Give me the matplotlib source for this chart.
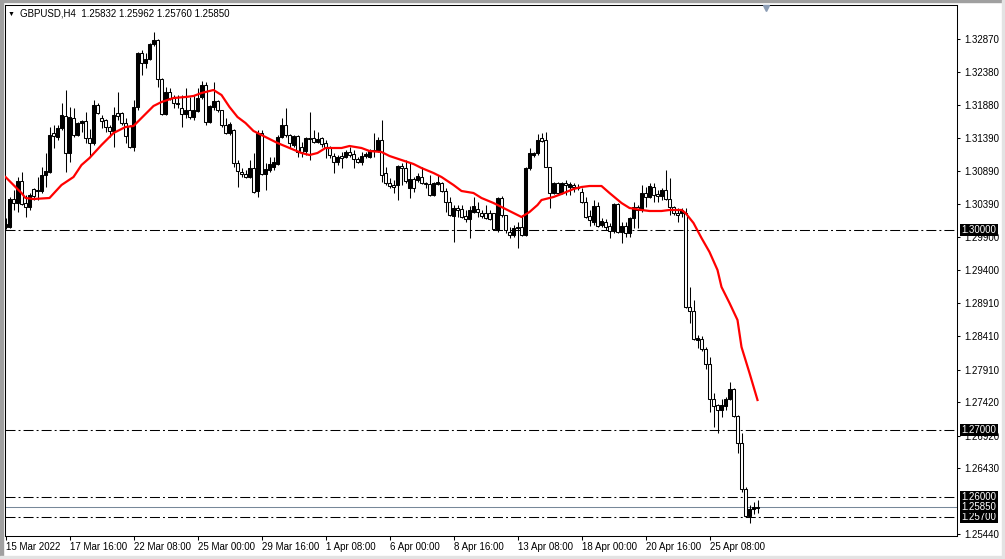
import numpy as np
import matplotlib
matplotlib.use("Agg")
import matplotlib.pyplot as plt
import matplotlib.transforms as mtransforms
from matplotlib.patches import Rectangle

plt.rcParams['font.family'] = ['Liberation Sans', 'DejaVu Sans']
plt.rcParams['lines.scale_dashes'] = False

# GBPUSD H4 candles, 15 Mar 2022 00:00 onwards
opens = [1.30050, 1.30050, 1.30470, 1.30410, 1.30740, 1.30410, 1.30350, 1.30620, 1.30590, 1.30590,
         1.30830, 1.30875, 1.31460, 1.31400, 1.31535, 1.31715, 1.31160, 1.31685, 1.31430, 1.31610,
         1.31640, 1.31385, 1.31310, 1.31880, 1.31685, 1.31655, 1.31550, 1.31490, 1.31760, 1.31760,
         1.31610, 1.31565, 1.31250, 1.31850, 1.32660, 1.32510, 1.32570, 1.32795, 1.32855, 1.32270,
         1.31745, 1.32075, 1.31985, 1.31910, 1.31835, 1.31745, 1.31805, 1.31700, 1.31790, 1.32000,
         1.32180, 1.31625, 1.31850, 1.31940, 1.31805, 1.31580, 1.31460, 1.31505, 1.31010, 1.30875,
         1.30845, 1.30800, 1.30935, 1.30590, 1.31460, 1.30845, 1.30905, 1.30950, 1.30995, 1.31400,
         1.31580, 1.31430, 1.31280, 1.31415, 1.31250, 1.31190, 1.31385, 1.31385, 1.31325, 1.31385,
         1.31310, 1.31235, 1.31115, 1.31025, 1.31115, 1.31100, 1.31175, 1.31145, 1.31070, 1.31025,
         1.31115, 1.31100, 1.31190, 1.31190, 1.31355, 1.30860, 1.30710, 1.30680, 1.30680, 1.30965,
         1.30935, 1.30635, 1.30770, 1.30755, 1.30800, 1.30710, 1.30695, 1.30530, 1.30695, 1.30710,
         1.30590, 1.30425, 1.30215, 1.30335, 1.30320, 1.30215, 1.30170, 1.30275, 1.30320, 1.30260,
         1.30260, 1.30260, 1.30260, 1.30005, 1.30485, 1.30230, 1.29975, 1.29930, 1.30035, 1.30050,
         1.29930, 1.30935, 1.31130, 1.31160, 1.31385, 1.31355, 1.30950, 1.30560, 1.30710, 1.30560,
         1.30710, 1.30650, 1.30680, 1.30650, 1.30575, 1.30425, 1.30215, 1.30125, 1.30365, 1.30080,
         1.30125, 1.30065, 1.29990, 1.30395, 1.29975, 1.30065, 1.29960, 1.30185, 1.30350, 1.30305,
         1.30560, 1.30500, 1.30650, 1.30545, 1.30515, 1.30605, 1.30470, 1.30350, 1.30260, 1.30260,
         1.30260, 1.28850, 1.28790, 1.28355, 1.28370, 1.28220, 1.27995, 1.27470, 1.27380, 1.27305,
         1.27365, 1.27470, 1.27620, 1.27215, 1.26810, 1.26120, 1.25715, 1.25820, 1.25832]
highs = [1.30185, 1.30500, 1.30605, 1.30800, 1.30875, 1.30530, 1.30560, 1.30635, 1.30800, 1.30950,
         1.31160, 1.31550, 1.31580, 1.31580, 1.31910, 1.32105, 1.31850, 1.31835, 1.31625, 1.31655,
         1.31775, 1.31520, 1.31955, 1.31910, 1.31730, 1.31670, 1.31580, 1.31850, 1.32075, 1.31775,
         1.31685, 1.31580, 1.31955, 1.32675, 1.32705, 1.32660, 1.32810, 1.32975, 1.32870, 1.32285,
         1.32150, 1.32135, 1.32030, 1.32030, 1.32030, 1.32135, 1.32000, 1.32030, 1.32135, 1.32240,
         1.32225, 1.31880, 1.32225, 1.31955, 1.31805, 1.31685, 1.31625, 1.31520, 1.31055, 1.30935,
         1.30905, 1.31055, 1.31160, 1.31505, 1.31505, 1.31010, 1.31100, 1.31100, 1.31430, 1.31685,
         1.31835, 1.31445, 1.31430, 1.31430, 1.31325, 1.31400, 1.31775, 1.31505, 1.31475, 1.31400,
         1.31355, 1.31265, 1.31160, 1.31130, 1.31175, 1.31205, 1.31250, 1.31205, 1.31100, 1.31175,
         1.31175, 1.31220, 1.31460, 1.31400, 1.31655, 1.30950, 1.30785, 1.30755, 1.30980, 1.31010,
         1.31055, 1.31010, 1.30800, 1.30860, 1.30950, 1.30725, 1.30830, 1.30725, 1.30830, 1.30725,
         1.30635, 1.30500, 1.30380, 1.30380, 1.30380, 1.30305, 1.30365, 1.30500, 1.30425, 1.30305,
         1.30380, 1.30305, 1.30260, 1.30500, 1.30515, 1.30230, 1.30050, 1.30080, 1.30125, 1.30230,
         1.30950, 1.31235, 1.31175, 1.31445, 1.31460, 1.31475, 1.30950, 1.30725, 1.30725, 1.30725,
         1.30755, 1.30725, 1.30710, 1.30695, 1.30635, 1.30500, 1.30305, 1.30455, 1.30425, 1.30185,
         1.30170, 1.30110, 1.30410, 1.30410, 1.30125, 1.30125, 1.30200, 1.30425, 1.30380, 1.30680,
         1.30650, 1.30710, 1.30710, 1.30605, 1.30635, 1.30905, 1.30785, 1.30365, 1.30335, 1.30335,
         1.30335, 1.29150, 1.28955, 1.28430, 1.28415, 1.28250, 1.28100, 1.27560, 1.27395, 1.27470,
         1.27500, 1.27725, 1.27635, 1.27230, 1.26960, 1.26150, 1.25880, 1.25925, 1.25962]
lows = [1.30020, 1.30035, 1.30305, 1.30275, 1.30380, 1.30200, 1.30305, 1.30455, 1.30455, 1.30560,
        1.30650, 1.30860, 1.31235, 1.31355, 1.31505, 1.30875, 1.31025, 1.31400, 1.31415, 1.31475,
        1.31310, 1.31100, 1.31280, 1.31745, 1.31535, 1.31475, 1.31400, 1.31250, 1.31655, 1.31580,
        1.31310, 1.31235, 1.31190, 1.31805, 1.32330, 1.32435, 1.32555, 1.32765, 1.32150, 1.31730,
        1.31730, 1.31955, 1.31835, 1.31835, 1.31550, 1.31685, 1.31670, 1.31655, 1.31775, 1.31970,
        1.31580, 1.31610, 1.31805, 1.31775, 1.31550, 1.31445, 1.31430, 1.30950, 1.30650, 1.30800,
        1.30785, 1.30785, 1.30560, 1.30500, 1.30830, 1.30605, 1.30875, 1.30905, 1.30980, 1.31385,
        1.31400, 1.31235, 1.31250, 1.31100, 1.31100, 1.31130, 1.31055, 1.31310, 1.31310, 1.31250,
        1.31085, 1.31085, 1.30860, 1.30980, 1.30935, 1.31085, 1.31100, 1.30935, 1.31010, 1.30980,
        1.31085, 1.31085, 1.31100, 1.31175, 1.30725, 1.30680, 1.30635, 1.30560, 1.30455, 1.30680,
        1.30710, 1.30485, 1.30575, 1.30725, 1.30695, 1.30635, 1.30515, 1.30515, 1.30680, 1.30575,
        1.30275, 1.30215, 1.29825, 1.30200, 1.30185, 1.30125, 1.29885, 1.30260, 1.30200, 1.30185,
        1.30170, 1.30155, 1.30005, 1.29975, 1.30200, 1.29960, 1.29885, 1.29900, 1.29735, 1.29915,
        1.29915, 1.30905, 1.31100, 1.31130, 1.31325, 1.30950, 1.30335, 1.30545, 1.30530, 1.30545,
        1.30530, 1.30530, 1.30575, 1.30605, 1.30410, 1.30185, 1.30065, 1.30080, 1.30050, 1.30050,
        1.30005, 1.29885, 1.29960, 1.29960, 1.29810, 1.29900, 1.29900, 1.30035, 1.30035, 1.30275,
        1.30350, 1.30485, 1.30425, 1.30425, 1.30455, 1.30455, 1.30230, 1.30230, 1.30125, 1.30200,
        1.28835, 1.28610, 1.28355, 1.28235, 1.28190, 1.27920, 1.27275, 1.27050, 1.26960, 1.27200,
        1.27305, 1.27455, 1.27200, 1.26660, 1.26075, 1.25700, 1.25610, 1.25745, 1.25760]
closes = [1.30095, 1.30470, 1.30410, 1.30740, 1.30395, 1.30350, 1.30530, 1.30515, 1.30605, 1.30830,
          1.30890, 1.31430, 1.31415, 1.31535, 1.31730, 1.31160, 1.31700, 1.31430, 1.31610, 1.31640,
          1.31385, 1.31310, 1.31880, 1.31760, 1.31640, 1.31550, 1.31490, 1.31730, 1.31715, 1.31610,
          1.31415, 1.31250, 1.31850, 1.32660, 1.32510, 1.32570, 1.32795, 1.32855, 1.32270, 1.31745,
          1.32075, 1.31985, 1.31910, 1.31895, 1.31745, 1.31805, 1.31700, 1.31805, 1.31985, 1.32180,
          1.31625, 1.31865, 1.31940, 1.31805, 1.31580, 1.31460, 1.31595, 1.31010, 1.30890, 1.30845,
          1.30800, 1.30935, 1.30575, 1.31460, 1.30845, 1.30920, 1.30995, 1.31025, 1.31400, 1.31580,
          1.31430, 1.31310, 1.31415, 1.31175, 1.31175, 1.31385, 1.31370, 1.31325, 1.31370, 1.31295,
          1.31250, 1.31130, 1.31025, 1.31100, 1.31085, 1.31175, 1.31130, 1.31070, 1.31025, 1.31115,
          1.31145, 1.31205, 1.31205, 1.31355, 1.30830, 1.30710, 1.30665, 1.30650, 1.30965, 1.30935,
          1.30740, 1.30770, 1.30635, 1.30815, 1.30710, 1.30695, 1.30530, 1.30710, 1.30725, 1.30590,
          1.30425, 1.30230, 1.30335, 1.30305, 1.30200, 1.30170, 1.30305, 1.30365, 1.30275, 1.30215,
          1.30185, 1.30170, 1.30020, 1.30485, 1.30230, 1.30005, 1.29930, 1.30035, 1.30050, 1.29930,
          1.30935, 1.31160, 1.31160, 1.31355, 1.31340, 1.30950, 1.30560, 1.30710, 1.30560, 1.30710,
          1.30680, 1.30695, 1.30650, 1.30635, 1.30425, 1.30200, 1.30155, 1.30365, 1.30065, 1.30140,
          1.30050, 1.29990, 1.30395, 1.29975, 1.30065, 1.29960, 1.30185, 1.30350, 1.30305, 1.30560,
          1.30500, 1.30665, 1.30530, 1.30515, 1.30605, 1.30470, 1.30350, 1.30260, 1.30230, 1.30305,
          1.28850, 1.28790, 1.28370, 1.28385, 1.28220, 1.27995, 1.27470, 1.27365, 1.27305, 1.27380,
          1.27470, 1.27620, 1.27215, 1.26810, 1.26120, 1.25715, 1.25820, 1.25850, 1.25850]

# moving average (red), read at selected bars
ma_bars = [0, 2, 4, 5, 7, 11, 14, 17, 19, 21, 24, 27, 30, 32, 34, 37, 39, 42, 45, 47,
           49, 52, 54, 56, 58, 60, 62, 65, 68, 71, 74, 76, 78, 80, 84, 86, 89, 91, 94, 96,
           99, 102, 104, 107, 109, 112, 114, 117, 119, 122, 124, 127, 129, 131, 133, 134, 137, 139, 142, 144,
           146, 149, 151, 154, 156, 159, 161, 164, 166, 169, 170, 172, 174, 176, 178, 179, 181, 183, 184, 186,
           188]
ma_vals = [1.30800, 1.30680, 1.30560, 1.30485, 1.30470, 1.30485, 1.30680, 1.30800, 1.30980, 1.31085,
           1.31280, 1.31460, 1.31550, 1.31565, 1.31685, 1.31865, 1.31925, 1.31985, 1.32000, 1.32015,
           1.32060, 1.32105, 1.32030, 1.31850, 1.31700, 1.31610, 1.31490, 1.31400, 1.31310, 1.31235,
           1.31160, 1.31130, 1.31160, 1.31235, 1.31235, 1.31265, 1.31235, 1.31190, 1.31175, 1.31115,
           1.31055, 1.30995, 1.30935, 1.30860, 1.30800, 1.30680, 1.30590, 1.30560, 1.30485, 1.30410,
           1.30350, 1.30260, 1.30200, 1.30275, 1.30380, 1.30455, 1.30500, 1.30545, 1.30620, 1.30650,
           1.30665, 1.30665, 1.30560, 1.30410, 1.30335, 1.30305, 1.30290, 1.30290, 1.30305, 1.30305,
           1.30260, 1.30110, 1.29885, 1.29675, 1.29405, 1.29150, 1.28910, 1.28655, 1.28250, 1.27860,
           1.27455]

time_labels = ['15 Mar 2022', '17 Mar 16:00', '22 Mar 08:00', '25 Mar 00:00', '29 Mar 16:00',
               '1 Apr 08:00', '6 Apr 00:00', '8 Apr 16:00', '13 Apr 08:00', '18 Apr 00:00',
               '20 Apr 16:00', '25 Apr 08:00']
bars_per_label = 16
price_ticks = [1.32870, 1.32380, 1.31880, 1.31390, 1.30890, 1.30390, 1.29900, 1.29400,
               1.28910, 1.28410, 1.27910, 1.27420, 1.26920, 1.26430, 1.25440]
levels = [1.30000, 1.27000, 1.26000, 1.25700]
bid = 1.25850
title = 'GBPUSD,H4  1.25832 1.25962 1.25760 1.25850'

W, H = 1005, 559
fig = plt.figure(figsize=(W / 100, H / 100), dpi=100)
fig.patch.set_facecolor('white')
ax = fig.add_axes([4.5 / W, 1 - 536 / H, (957 - 4.5) / W, (536 - 5) / H])

o = np.array(opens); h = np.array(highs); l = np.array(lows); c = np.array(closes)
x = np.arange(len(o))
up = c >= o

# level lines and bid line
for lv in levels:
    ax.axhline(lv, color='black', lw=0.75, dashes=(7.2, 2.2, 1.4, 2.2), zorder=1)
ax.axhline(bid, color='#778899', lw=0.75, zorder=1)

# candles
ax.vlines(x, l, h, color='black', lw=0.75, zorder=2)
bottom = np.minimum(o, c)
height = np.maximum(np.abs(c - o), 0.00004)
ax.bar(x[up], height[up], bottom=bottom[up], width=0.55, facecolor='black',
       edgecolor='black', lw=0.75, zorder=3)
ax.bar(x[~up], height[~up], bottom=bottom[~up], width=0.55, facecolor='white',
       edgecolor='black', lw=0.75, zorder=3)

ax.plot(ma_bars, ma_vals, color='#ff0000', lw=1.6, zorder=4, solid_joinstyle='round')

ax.set_xlim(-0.25, (957 - 5.5) / 4)
ax.set_ylim(1.33455 - 0.00015 * 536, 1.33455 - 0.00015 * 5)

# axes styling
for sp in ax.spines.values():
    sp.set_color('black')
    sp.set_linewidth(0.75)
ax.yaxis.tick_right()
ax.set_yticks(price_ticks)
ax.set_yticklabels([f'{p:.5f}' for p in price_ticks])
ax.set_xticks(np.arange(len(time_labels)) * bars_per_label)
ax.set_xticklabels(time_labels)
for lbl in ax.get_xticklabels():
    lbl.set_horizontalalignment('left')
ax.tick_params(axis='y', direction='out', length=2.5, width=0.75, pad=2.5, labelsize=7, colors='black')
ax.tick_params(axis='x', direction='out', length=3, width=0.75, pad=1.5, labelsize=7, colors='black')

# price boxes on the right axis
trans = mtransforms.blended_transform_factory(ax.transAxes, ax.transData)
for lv in levels + [bid]:
    ax.text(1.0048, lv, f'{lv:.5f}', transform=trans, va='center', ha='left', color='white',
            fontsize=7, zorder=6, clip_on=False,
            bbox=dict(boxstyle='square,pad=0.12', facecolor='black', edgecolor='none'))

# chart shift marker
ax.plot([0.7995], [0.9944], marker='v', markersize=5, color='#8c9db5', transform=ax.transAxes,
        clip_on=False, zorder=6)

# header
fig.text(8 / W, 1 - 14 / H, '\u25bc', fontsize=5, va='center', ha='left', color='black')
fig.text(20 / W, 1 - 14 / H, title, fontsize=7, va='center', ha='left', color='black')

# window border
fig.patches.append(Rectangle((0, 0), 2.5 / W, 1, transform=fig.transFigure, color='#a0a0a0'))
fig.patches.append(Rectangle((0, 1 - 1.5 / H), 1, 1.5 / H, transform=fig.transFigure, color='#a0a0a0'))
fig.patches.append(Rectangle((1 - 3 / W, 0), 3 / W, 1, transform=fig.transFigure, color='#e3e3e3'))
fig.patches.append(Rectangle((0, 0), 1, 3.5 / H, transform=fig.transFigure, color='#e3e3e3'))

fig.savefig('out.png', dpi=100)
